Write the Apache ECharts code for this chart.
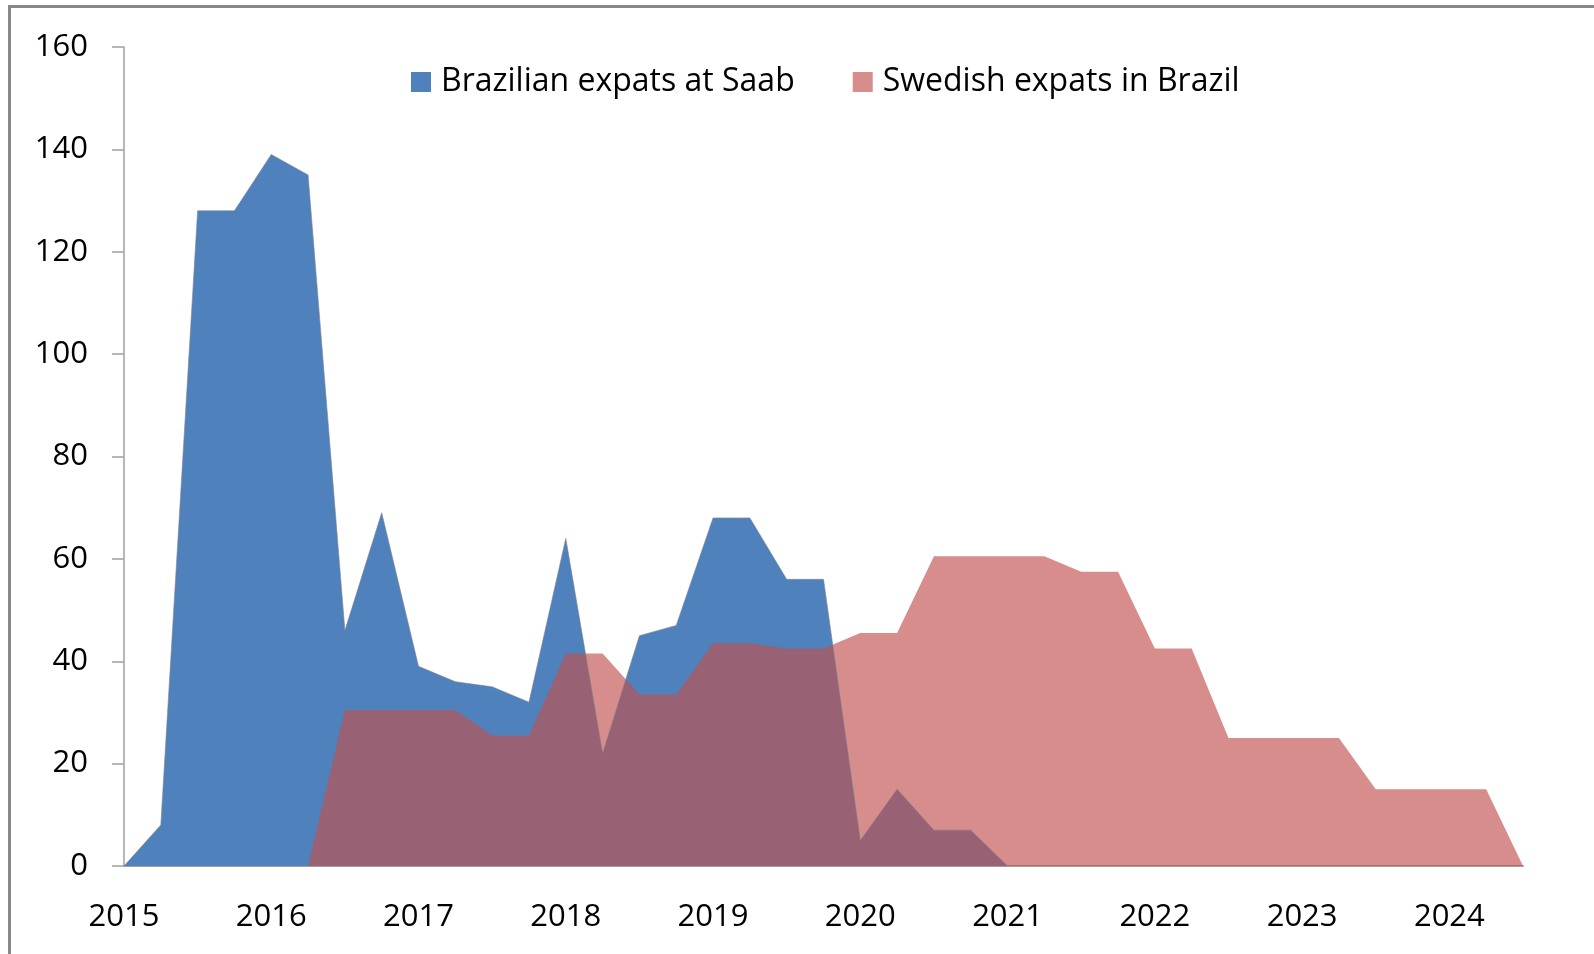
<!DOCTYPE html>
<html>
<head>
<meta charset="utf-8">
<title>Expats chart</title>
<script src="https://cdn.jsdelivr.net/npm/echarts@6/dist/echarts.min.js"></script>
<style>
    html, body { margin: 0; padding: 0; background: #fff; }
    #chart { width: 1594px; height: 954px; }
</style>
</head>
<body>
<div id="chart"></div>
<script>
// quarterly points, 2015 Q1 .. 2024 Q3
const years = [2015, 2016, 2017, 2018, 2019, 2020, 2021, 2022, 2023, 2024];
const quarters = [];
years.forEach(y => {
    for (let q = 1; q <= 4; q++) {
        if (y === 2024 && q === 4) return;
        quarters.push(y + ' Q' + q);
    }
});

const brazilianAtSaab = [
    0, 8, 128, 128, 139, 135, 46, 69, 39, 36,
    35, 32, 64, 22, 45, 47, 68, 68, 56, 56,
    5, 15, 7, 7, 0, null, null, null, null, null,
    null, null, null, null, null, null, null, null, null
];
const swedishInBrazil = [
    null, null, null, null, null, 0, 30.5, 30.5, 30.5, 30.5,
    25.5, 25.5, 41.5, 41.5, 33.5, 33.5, 43.5, 43.5, 42.5, 42.5,
    45.5, 45.5, 60.5, 60.5, 60.5, 60.5, 57.5, 57.5, 42.5, 42.5,
    25, 25, 25, 25, 15, 15, 15, 15, 0
];

const font = "'Open Sans', 'Noto Sans', sans-serif";
const chart = echarts.init(document.getElementById('chart'));

const option = {
    animation: false,
    backgroundColor: '#fff',
    graphic: [{
        type: 'rect',
        shape: { x: 9.5, y: 6.5, width: 2000, height: 2000 },
        style: { fill: 'none', stroke: '#878787', lineWidth: 3 },
        silent: true
    }],
    legend: {
        left: 406,
        top: 61,
        icon: 'rect',
        itemWidth: 20,
        itemHeight: 20,
        itemGap: 58,
        textStyle: {
            fontFamily: font,
            fontSize: 32,
            color: '#000',
            lineHeight: 32,
            padding: [0, 0, 0, 5]
        },
        data: [
            { name: 'Brazilian expats at Saab', itemStyle: { color: '#4F81BD' } },
            { name: 'Swedish expats in Brazil', itemStyle: { color: '#D68D8C' } }
        ]
    },
    grid: { left: 124, right: 71, top: 47, bottom: 88 },
    xAxis: {
        type: 'category',
        data: quarters,
        boundaryGap: false,
        axisLine: { lineStyle: { color: '#A0A0A0', width: 2 } },
        axisTick: { show: false },
        axisLabel: {
            interval: 3,
            margin: 36,
            fontFamily: font,
            fontSize: 31,
            color: '#000',
            formatter: v => v.slice(0, 4)
        },
        splitLine: { show: false }
    },
    yAxis: {
        type: 'value',
        min: 0,
        max: 160,
        interval: 20,
        axisLine: { show: true, lineStyle: { color: '#A0A0A0', width: 1.5 } },
        axisTick: { show: true, length: 12, lineStyle: { color: '#A0A0A0', width: 1.5 } },
        axisLabel: {
            margin: 36,
            fontFamily: font,
            fontSize: 31,
            color: '#000'
        },
        splitLine: { show: false }
    },
    series: [
        {
            name: 'Brazilian expats at Saab',
            type: 'line',
            data: brazilianAtSaab,
            symbol: 'none',
            itemStyle: { color: '#4F81BD' },
            lineStyle: { color: 'rgba(130,130,140,0.6)', width: 1 },
            areaStyle: { color: '#4F81BD', opacity: 1 }
        },
        {
            name: 'Swedish expats in Brazil',
            type: 'line',
            data: swedishInBrazil,
            symbol: 'none',
            itemStyle: { color: '#D68D8C' },
            lineStyle: { width: 0 },
            areaStyle: { color: 'rgba(192,80,77,0.65)', opacity: 1 }
        }
    ]
};

chart.setOption(option);
</script>
</body>
</html>
